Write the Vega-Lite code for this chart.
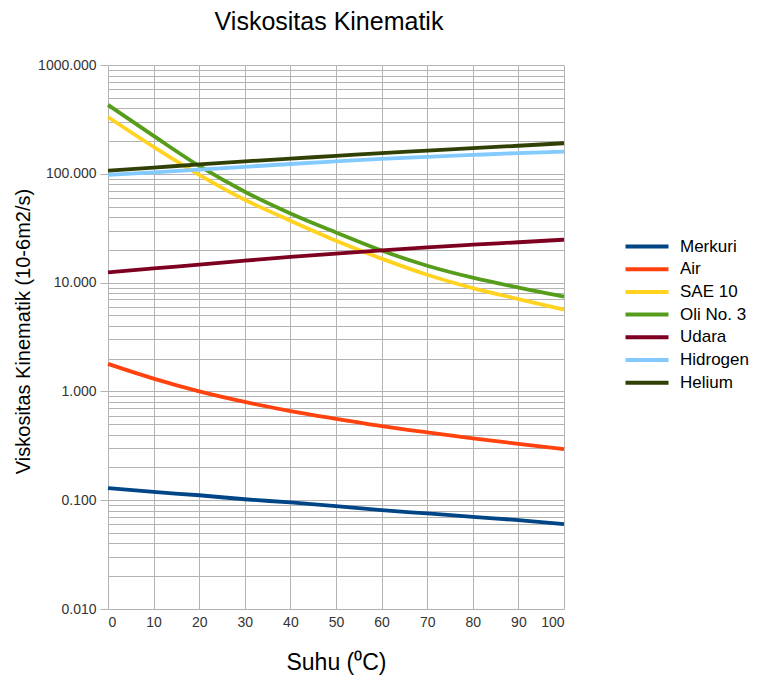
{
  "$schema": "https://vega.github.io/schema/vega-lite/v6.json",
  "width": 456,
  "height": 544,
  "autosize": "none",
  "padding": {"left": 108, "top": 65, "right": 194, "bottom": 68},
  "background": "white",
  "config": {
    "font": "Liberation Sans",
    "view": {"stroke": null}
  },
  "title": {
    "text": "Viskositas Kinematik",
    "fontSize": 25,
    "fontWeight": "normal",
    "color": "#000000",
    "offset": 23,
    "dx": -7,
    "anchor": "middle"
  },
  "data": {
    "values": [
      {"suhu": 0, "nilai": 0.129, "zat": "Merkuri"},
      {"suhu": 10, "nilai": 0.119, "zat": "Merkuri"},
      {"suhu": 20, "nilai": 0.111, "zat": "Merkuri"},
      {"suhu": 30, "nilai": 0.102, "zat": "Merkuri"},
      {"suhu": 40, "nilai": 0.0953, "zat": "Merkuri"},
      {"suhu": 50, "nilai": 0.0881, "zat": "Merkuri"},
      {"suhu": 60, "nilai": 0.081, "zat": "Merkuri"},
      {"suhu": 70, "nilai": 0.0755, "zat": "Merkuri"},
      {"suhu": 80, "nilai": 0.0703, "zat": "Merkuri"},
      {"suhu": 90, "nilai": 0.0656, "zat": "Merkuri"},
      {"suhu": 100, "nilai": 0.0602, "zat": "Merkuri"},
      {"suhu": 0, "nilai": 1.79, "zat": "Air"},
      {"suhu": 10, "nilai": 1.31, "zat": "Air"},
      {"suhu": 20, "nilai": 1.0, "zat": "Air"},
      {"suhu": 30, "nilai": 0.8, "zat": "Air"},
      {"suhu": 40, "nilai": 0.66, "zat": "Air"},
      {"suhu": 50, "nilai": 0.56, "zat": "Air"},
      {"suhu": 60, "nilai": 0.48, "zat": "Air"},
      {"suhu": 70, "nilai": 0.42, "zat": "Air"},
      {"suhu": 80, "nilai": 0.37, "zat": "Air"},
      {"suhu": 90, "nilai": 0.33, "zat": "Air"},
      {"suhu": 100, "nilai": 0.295, "zat": "Air"},
      {"suhu": 0, "nilai": 333, "zat": "SAE 10"},
      {"suhu": 10, "nilai": 177, "zat": "SAE 10"},
      {"suhu": 20, "nilai": 97.9, "zat": "SAE 10"},
      {"suhu": 30, "nilai": 57.7, "zat": "SAE 10"},
      {"suhu": 40, "nilai": 37.1, "zat": "SAE 10"},
      {"suhu": 50, "nilai": 24.3, "zat": "SAE 10"},
      {"suhu": 60, "nilai": 16.6, "zat": "SAE 10"},
      {"suhu": 70, "nilai": 11.8, "zat": "SAE 10"},
      {"suhu": 80, "nilai": 8.9, "zat": "SAE 10"},
      {"suhu": 90, "nilai": 7.06, "zat": "SAE 10"},
      {"suhu": 100, "nilai": 5.65, "zat": "SAE 10"},
      {"suhu": 0, "nilai": 430, "zat": "Oli No. 3"},
      {"suhu": 10, "nilai": 223, "zat": "Oli No. 3"},
      {"suhu": 20, "nilai": 118, "zat": "Oli No. 3"},
      {"suhu": 30, "nilai": 68.4, "zat": "Oli No. 3"},
      {"suhu": 40, "nilai": 43.2, "zat": "Oli No. 3"},
      {"suhu": 50, "nilai": 28.9, "zat": "Oli No. 3"},
      {"suhu": 60, "nilai": 19.7, "zat": "Oli No. 3"},
      {"suhu": 70, "nilai": 14.3, "zat": "Oli No. 3"},
      {"suhu": 80, "nilai": 11.1, "zat": "Oli No. 3"},
      {"suhu": 90, "nilai": 9.0, "zat": "Oli No. 3"},
      {"suhu": 100, "nilai": 7.44, "zat": "Oli No. 3"},
      {"suhu": 0, "nilai": 12.4, "zat": "Udara"},
      {"suhu": 10, "nilai": 13.5, "zat": "Udara"},
      {"suhu": 20, "nilai": 14.6, "zat": "Udara"},
      {"suhu": 30, "nilai": 15.9, "zat": "Udara"},
      {"suhu": 40, "nilai": 17.2, "zat": "Udara"},
      {"suhu": 50, "nilai": 18.5, "zat": "Udara"},
      {"suhu": 60, "nilai": 19.8, "zat": "Udara"},
      {"suhu": 70, "nilai": 21.1, "zat": "Udara"},
      {"suhu": 80, "nilai": 22.3, "zat": "Udara"},
      {"suhu": 90, "nilai": 23.5, "zat": "Udara"},
      {"suhu": 100, "nilai": 24.8, "zat": "Udara"},
      {"suhu": 0, "nilai": 97.9, "zat": "Hidrogen"},
      {"suhu": 10, "nilai": 103, "zat": "Hidrogen"},
      {"suhu": 20, "nilai": 109, "zat": "Hidrogen"},
      {"suhu": 30, "nilai": 116, "zat": "Hidrogen"},
      {"suhu": 40, "nilai": 123, "zat": "Hidrogen"},
      {"suhu": 50, "nilai": 130, "zat": "Hidrogen"},
      {"suhu": 60, "nilai": 137, "zat": "Hidrogen"},
      {"suhu": 70, "nilai": 143, "zat": "Hidrogen"},
      {"suhu": 80, "nilai": 149, "zat": "Hidrogen"},
      {"suhu": 90, "nilai": 155, "zat": "Hidrogen"},
      {"suhu": 100, "nilai": 160, "zat": "Hidrogen"},
      {"suhu": 0, "nilai": 107, "zat": "Helium"},
      {"suhu": 10, "nilai": 114, "zat": "Helium"},
      {"suhu": 20, "nilai": 122, "zat": "Helium"},
      {"suhu": 30, "nilai": 130, "zat": "Helium"},
      {"suhu": 40, "nilai": 138, "zat": "Helium"},
      {"suhu": 50, "nilai": 146, "zat": "Helium"},
      {"suhu": 60, "nilai": 155, "zat": "Helium"},
      {"suhu": 70, "nilai": 163, "zat": "Helium"},
      {"suhu": 80, "nilai": 172, "zat": "Helium"},
      {"suhu": 90, "nilai": 181, "zat": "Helium"},
      {"suhu": 100, "nilai": 191, "zat": "Helium"}
    ]
  },
  "mark": {"type": "line", "strokeWidth": 3.8, "interpolate": "monotone"},
  "encoding": {
    "x": {
      "field": "suhu",
      "type": "quantitative",
      "scale": {"domain": [0, 100], "nice": false},
      "axis": {
        "values": [0, 10, 20, 30, 40, 50, 60, 70, 80, 90, 100],
        "title": "Suhu (⁰C)",
        "titleFontSize": 23,
        "titleFontWeight": "normal",
        "titleColor": "#000000",
        "titlePadding": 22,
        "labelFontSize": 14,
        "labelColor": "#333333",
        "labelPadding": 6,
        "domain": false,
        "ticks": false,
        "gridColor": "#b3b3b3",
        "gridWidth": 1,
        "gridOpacity": 1
      }
    },
    "y": {
      "field": "nilai",
      "type": "quantitative",
      "scale": {"type": "log", "domain": [0.01, 1000], "nice": false},
      "axis": {
        "values": [0.01,0.02,0.03,0.04,0.05,0.06,0.07,0.08,0.09,0.1,0.2,0.3,0.4,0.5,0.6,0.7,0.8,0.9,1,2,3,4,5,6,7,8,9,10,20,30,40,50,60,70,80,90,100,200,300,400,500,600,700,800,900,1000],
        "format": ".3f",
        "labelExpr": "abs(log(datum.value)/LN10 - round(log(datum.value)/LN10)) < 0.000001 ? datum.label : ''",
        "tickOpacity": {"condition": {"test": "abs(log(datum.value)/LN10 - round(log(datum.value)/LN10)) < 0.000001", "value": 1}, "value": 0},
        "tickColor": "#b3b3b3",
        "tickSize": 8,
        "title": "Viskositas Kinematik (10-6m2/s)",
        "titleFontSize": 20,
        "titleFontWeight": "normal",
        "titleColor": "#000000",
        "titlePadding": 4,
        "titleY": 266,
        "labelFontSize": 14,
        "labelColor": "#333333",
        "labelPadding": 4,
        "labelOverlap": false,
        "domain": false,
        "gridColor": "#b3b3b3",
        "gridWidth": 1,
        "gridOpacity": 1
      }
    },
    "color": {
      "field": "zat",
      "type": "nominal",
      "sort": null,
      "scale": {
        "domain": ["Merkuri", "Air", "SAE 10", "Oli No. 3", "Udara", "Hidrogen", "Helium"],
        "range": ["#004586", "#ff420e", "#ffd320", "#579d1c", "#7e0021", "#83caff", "#314004"]
      },
      "legend": {
        "title": null,
        "orient": "none",
        "legendX": 515,
        "legendY": 173,
        "symbolType": "M-1,0L1,0",
        "symbolSize": 1850,
        "symbolStrokeWidth": 4,
        "symbolFillColor": "transparent",
        "labelFontSize": 17,
        "labelColor": "#000000",
        "clipHeight": 17,
        "rowPadding": 4.7,
        "labelOffset": 9
      }
    }
  }
}
